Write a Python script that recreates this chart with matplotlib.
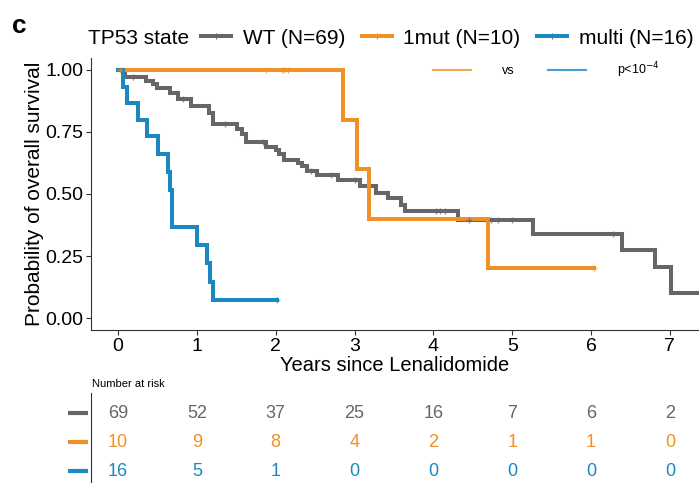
import numpy as np
import matplotlib.pyplot as plt
import matplotlib.transforms as mtransforms
from matplotlib.lines import Line2D

plt.rcParams['font.family'] = ['Liberation Sans', 'DejaVu Sans']

# Curvas de supervivencia (tiempo del evento, supervivencia tras el evento)
wt_time = [0, 0.09, 0.36, 0.44, 0.50, 0.66, 0.76, 0.93, 1.16, 1.21, 1.51, 1.57, 1.62,
           1.88, 2.00, 2.04, 2.10, 2.28, 2.33, 2.40, 2.53, 2.79, 3.07, 3.27, 3.43,
           3.59, 3.64, 4.31, 5.26, 6.39, 6.81, 7.01]
wt_surv = [1.0, 0.971, 0.957, 0.942, 0.928, 0.906, 0.884, 0.855, 0.826, 0.783, 0.761,
           0.740, 0.711, 0.688, 0.677, 0.660, 0.637, 0.625, 0.612, 0.592, 0.577, 0.556,
           0.534, 0.506, 0.484, 0.457, 0.430, 0.395, 0.339, 0.274, 0.204, 0.102]
wt_end = 7.36
wt_censor = [0.19, 0.82, 1.36, 1.84, 2.45, 2.70, 3.00, 4.03, 4.09, 4.15, 4.45, 4.73,
             4.82, 5.00, 6.28]

mut1_time = [0, 2.85, 3.03, 3.18, 4.69]
mut1_surv = [1.0, 0.8, 0.6, 0.4, 0.2]
mut1_end = 6.04
mut1_censor = [0.02, 1.88, 2.08, 2.11, 2.15, 6.04]

multi_time = [0, 0.06, 0.11, 0.25, 0.37, 0.51, 0.63, 0.66, 0.69, 1.00, 1.13, 1.17, 1.21]
multi_surv = [1.0, 0.933, 0.867, 0.800, 0.733, 0.662, 0.590, 0.515, 0.368, 0.295,
              0.221, 0.147, 0.074]
multi_end = 2.02
multi_censor = [2.02]

# Tabla de numero en riesgo
risk_times = [0, 1, 2, 3, 4, 5, 6, 7]
risk_wt = [69, 52, 37, 25, 16, 7, 6, 2]
risk_mut1 = [10, 9, 8, 4, 2, 1, 1, 0]
risk_multi = [16, 5, 1, 0, 0, 0, 0, 0]

labels = ['WT (N=69)', '1mut (N=10)', 'multi (N=16)']
colors = ['#666666', '#EF9127', '#1C88C2']

W, H = 699, 483
fig = plt.figure(figsize=(W / 100, H / 100), dpi=100)

# Ejes principales
ax = fig.add_axes([91 / W, (H - 330) / H, (W - 91) / W, (330 - 58) / H])
xlim = (-0.343, 7.37)

groups = [(wt_time, wt_surv, wt_end, wt_censor),
          (mut1_time, mut1_surv, mut1_end, mut1_censor),
          (multi_time, multi_surv, multi_end, multi_censor)]
for (t, s, end, cens), c in zip(groups, colors):
    tt = np.append(t, end)
    ss = np.append(s, s[-1])
    ax.step(tt, ss, where='post', color=c, lw=2.9, solid_joinstyle='miter', zorder=3)
    idx = np.searchsorted(t, cens, side='right') - 1
    ax.plot(cens, np.array(s)[idx], ls='none', marker='+', ms=5, mew=1.0,
            color=c, alpha=0.7, zorder=4)

ax.set_xlim(*xlim)
ax.set_ylim(-0.048, 1.048)
ax.set_xticks(range(8))
ax.set_yticks([0, 0.25, 0.5, 0.75, 1.0])
ax.set_yticklabels(['0.00', '0.25', '0.50', '0.75', '1.00'])
ax.tick_params(labelsize=14, length=3.5, width=0.8, color='#333333', labelcolor='black', pad=2)
for side in ['top', 'right']:
    ax.spines[side].set_visible(False)
for side in ['left', 'bottom']:
    ax.spines[side].set_color('#333333')
    ax.spines[side].set_linewidth(0.8)
ax.set_xlabel('Years since Lenalidomide', fontsize=14.5, labelpad=1)
ax.set_ylabel('Probability of overall survival', fontsize=15, labelpad=1)

# Leyenda del p-valor
pv_handles = [Line2D([0], [0], color=colors[1], lw=1.5, alpha=0.8),
              Line2D([0], [0], color=colors[2], lw=1.5, alpha=0.8)]
ax.legend(pv_handles, ['vs', 'p<10$^{-4}$'], ncol=2, frameon=False, fontsize=9,
          handlelength=3.0, handletextpad=2.5, columnspacing=2.7,
          loc='center left', bbox_to_anchor=((433 - 91) / (W - 91), 1 - (70 - 58) / (330 - 58)),
          borderpad=0, borderaxespad=0)

# Leyenda superior
fig.text(88 / W, 1 - 38 / H, 'TP53 state', fontsize=15, va='center', ha='left')
top_handles = [Line2D([0], [0], color=c, lw=2.9, marker='+', ms=4, mew=0.8) for c in colors]
fig.legend(top_handles, labels, ncol=3, frameon=False, fontsize=15,
           handlelength=1.45, handletextpad=0.55, columnspacing=0.8,
           loc='center left', bbox_to_anchor=(201 / W, 1 - 38 / H),
           borderpad=0, borderaxespad=0)
fig.text(12 / W, 1 - 26 / H, 'c', fontsize=19, fontweight='bold', va='center', ha='left')

# Tabla de riesgo
tab = fig.add_axes([91 / W, 0, (W - 91) / W, (H - 393) / H])
tab.set_xlim(*xlim)
tab.set_ylim(2.41, -0.69)
for i, (vals, c) in enumerate(zip([risk_wt, risk_mut1, risk_multi], colors)):
    for t, v in zip(risk_times, vals):
        tab.text(t, i, str(v), color=c, fontsize=13, ha='center', va='center')
trans = mtransforms.blended_transform_factory(tab.transAxes, tab.transData)
for i, c in enumerate(colors):
    tab.plot([-(91 - 77.5) / (W - 91)], [i], marker='_', ms=14, mew=3, color=c,
             transform=trans, clip_on=False)
tab.set_xticks([])
tab.set_yticks([])
for side in ['top', 'right', 'bottom']:
    tab.spines[side].set_visible(False)
tab.spines['left'].set_color('#333333')
tab.spines['left'].set_linewidth(0.8)
fig.text(92 / W, 1 - 384 / H, 'Number at risk', fontsize=8, va='center', ha='left')

fig.savefig('out.png', dpi=100)
